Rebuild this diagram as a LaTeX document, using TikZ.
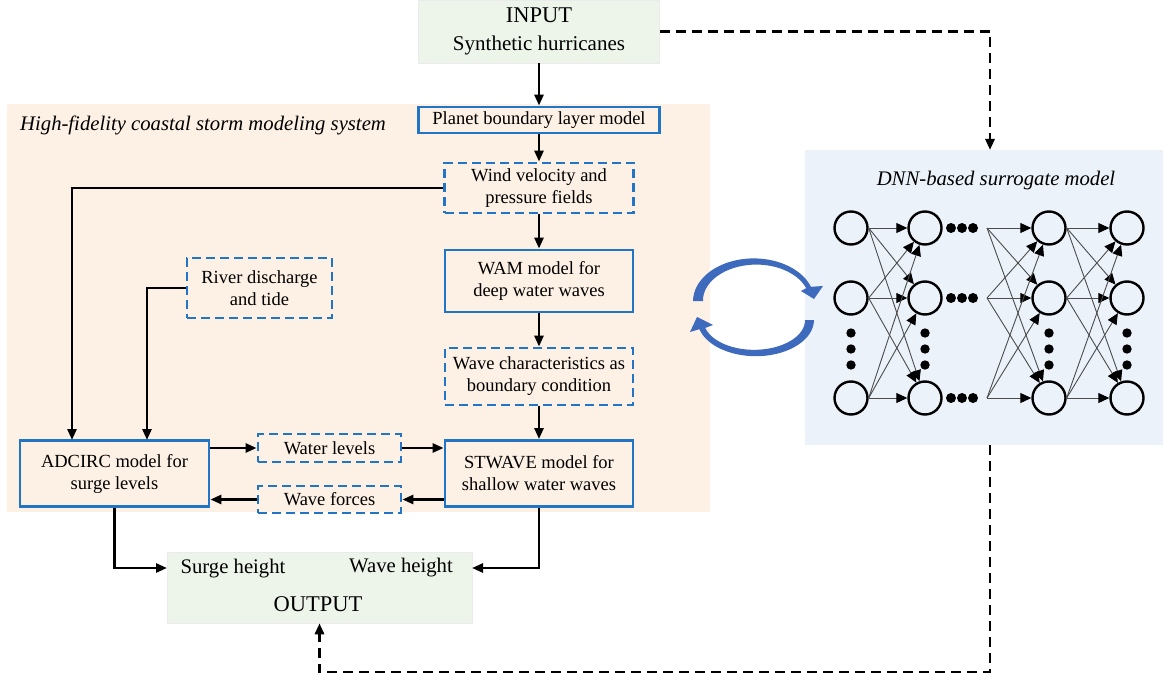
\documentclass[tikz,border=0pt]{standalone}
\usepackage{fontspec}
\setmainfont{Liberation Serif}
\usetikzlibrary{arrows.meta,calc}
\definecolor{boxblue}{RGB}{33,117,196}
\definecolor{iogreen}{RGB}{237,244,233}
\definecolor{peach}{RGB}{253,240,228}
\definecolor{dnnblue}{RGB}{235,242,250}
\definecolor{arcblue}{RGB}{62,106,190}
\begin{document}
\begin{tikzpicture}[x=1pt,y=-1pt,
  mbox/.style={draw=boxblue, line width=2.8pt, align=center, inner sep=0pt, font=\fontsize{18.5}{22}\selectfont},
  dbox/.style={mbox, dash pattern=on 9pt off 5pt},
  iobox/.style={fill=iogreen, draw=black!8, line width=0.5pt, inner sep=0pt, align=center},
  conn/.style={line width=2.6pt, -{Triangle[length=11pt,width=9pt]}},
  dconn/.style={line width=2.8pt, dash pattern=on 10pt off 6pt, -{Triangle[length=11pt,width=9pt]}},
  neuron/.style={circle, draw, line width=2.4pt, minimum size=33pt, inner sep=0pt},
  nnl/.style={line width=0.9pt, draw=black!70, -{Triangle[length=11pt,width=10pt,color=black,fill=black]}},
  iotext/.style={font=\fontsize{20.7}{28}\selectfont, inner sep=0pt},
  ttl/.style={font=\itshape\fontsize{20.7}{24}\selectfont, inner sep=0pt}
]
\useasboundingbox (0,0) rectangle (1165,682);
% backgrounds
\fill[peach] (7,104) rectangle (710,512);
\fill[dnnblue] (805,150) rectangle (1163,445);

% input / output
\node[iobox, minimum width=241pt, minimum height=63pt, font=\fontsize{21}{28}\selectfont] (input) at (539,31.5) {{\fontsize{22.5}{28}\selectfont INPUT}\\Synthetic hurricanes};
\node[iobox, minimum width=305pt, minimum height=71pt] (output) at (319.5,587.5) {};
\node[iotext] (surge) at (233,569) {Surge height};
\node[iotext] (waveh) at (401,568) {Wave height};
\node[iotext, font=\fontsize{22.5}{28}\selectfont] (outl) at (318,604) {OUTPUT};

% titles
\node[ttl, anchor=west] (title) at (20,125) {High-fidelity coastal storm modeling system};
\node[ttl] (dnntitle) at (996,181) {DNN-based surrogate model};

% model boxes
\node[mbox, minimum width=241pt, minimum height=26pt] (planet) at (539,120) {Planet boundary layer model};
\node[dbox, minimum width=189pt, minimum height=50pt] (wind) at (539,188) {Wind velocity and\\pressure fields};
\node[mbox, minimum width=188pt, minimum height=62pt] (wam) at (539,281) {WAM model for\\deep water waves};
\node[dbox, minimum width=188pt, minimum height=57pt] (wchar) at (539,376.5) {Wave characteristics as\\boundary condition};
\node[dbox, minimum width=145pt, minimum height=60pt] (river) at (259.5,288) {River discharge\\and tide};
\node[mbox, minimum width=189pt, minimum height=66pt] (adcirc) at (114.5,473.5) {ADCIRC model for\\surge levels};
\node[mbox, minimum width=188pt, minimum height=66pt] (stwave) at (539,473.5) {STWAVE model for\\shallow water waves};
\node[dbox, minimum width=143pt, minimum height=28pt] (wlev) at (329.5,448) {Water levels};
\node[dbox, minimum width=143pt, minimum height=27pt] (wforce) at (329.5,499.5) {Wave forces};

% helper coordinates
\coordinate (a1) at (72,440);
\coordinate (a2) at (147,440);
\coordinate (oL) at (167,568);
\coordinate (oR) at (472,568);
\coordinate (dnntop) at (990,150);
\coordinate (dnnbot) at (990,445);
\coordinate (cB) at (990,672);

% connectors
\draw[conn] (input.south) -- (planet.north);
\draw[conn] (planet.south) -- (wind.north);
\draw[conn] (wind.south) -- (wam.north);
\draw[conn] (wam.south) -- (wchar.north);
\draw[conn] (wchar.south) -- (stwave.north);
\draw[conn] (wind.west) -| (a1);
\draw[conn] (river.west) -| (a2);
\draw[conn] (adcirc.east |- wlev.west) -- (wlev.west);
\draw[conn] (wlev.east) -- (stwave.west |- wlev.east);
\draw[conn] (stwave.west |- wforce.east) -- (wforce.east);
\draw[conn] (wforce.west) -- (adcirc.east |- wforce.west);
\draw[conn] (adcirc.south) |- (oL);
\draw[conn] (stwave.south) |- (oR);
\draw[dconn] (input.east) -| (dnntop);
\draw[dconn] (dnnbot) -- (cB) -| (output.south);

% circular arrows (tapered crescents with heads)
\fill[arcblue]
  plot[domain=180:340, samples=50] ({755+(62-2.5*(\x-180)/160)*cos(\x)},{301+(44-2.5*(\x-180)/160)*sin(\x)})
  -- (823,286) -- (814,299) -- (801,291)
  -- plot[domain=340:180, samples=50] ({755+(52+2.5*(\x-180)/160)*cos(\x)},{301+(35+2.5*(\x-180)/160)*sin(\x)})
  -- cycle;
\fill[arcblue]
  plot[domain=0:165, samples=50] ({755+(59-1.5*\x/165)*cos(\x)},{320+(37-1.5*\x/165)*sin(\x)})
  -- (690,332) -- (697,317) -- (713,325)
  -- plot[domain=165:0, samples=50] ({755+(50+1.5*\x/165)*cos(\x)},{320+(29+1.5*\x/165)*sin(\x)})
  -- cycle;

% neural network
\foreach \l/\xx in {a/851,b/925,c/1049,d/1127}{
  \foreach \r/\yy in {1/228,2/298,3/398}{
    \node[neuron] (\l\r) at (\xx,\yy) {};
  }
}
\foreach \r/\yy in {1/228,2/298,3/398}{
  \coordinate (f\r) at (987,\yy);
  \foreach \xx in {951,962,973}{\fill (\xx,\yy) circle (5);}
}
\foreach \xx in {851,925,1049,1127}{
  \foreach \yy in {333,349,365}{\fill (\xx,\yy) circle (4.7);}
}
\foreach \s in {1,2,3}{
  \foreach \t in {1,2,3}{
    \draw[nnl] (a\s.east) -- (b\t);
    \draw[nnl] (c\s.east) -- (d\t);
    \draw[nnl] (f\s) -- (c\t);
  }
}
\end{tikzpicture}
\end{document}
